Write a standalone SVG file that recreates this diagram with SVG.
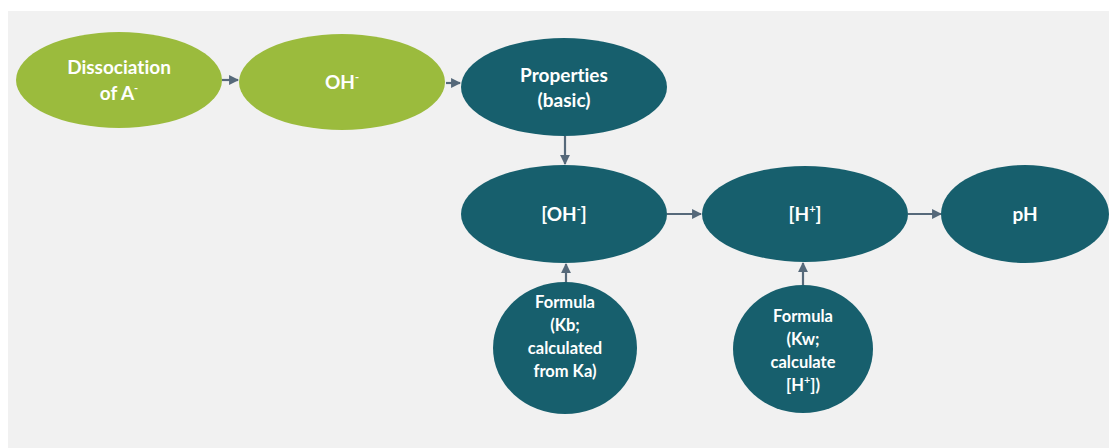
<svg xmlns="http://www.w3.org/2000/svg" width="1109" height="448" viewBox="0 0 1109 448">
  <style>
    .green { fill: #9bbb3d; }
    .teal { fill: #175f6d; }
    .lbl { fill: #ffffff; font-family: Lato, "Open Sans", "Liberation Sans", sans-serif; font-weight: bold; text-anchor: middle; font-variant-ligatures: none; }
    .big { font-size: 19px; }
    .small { font-size: 16.5px; }
    .sup { font-size: 11px; }
    .conn { stroke: #56697a; stroke-width: 2.2; fill: none; marker-end: url(#head); }
  </style>
  <defs>
    <marker id="head" viewBox="0 0 10 10" refX="9" refY="5" markerWidth="4.5" markerHeight="4.5" orient="auto" markerUnits="strokeWidth">
      <path d="M0,0 L10,5 L0,10 z" fill="#56697a"/>
    </marker>
  </defs>

  <!-- page -->
  <rect x="0" y="0" width="1109" height="448" fill="#ffffff"/>
  <rect x="8" y="11" width="1101" height="437" fill="#f1f1f1"/>

  <!-- connectors -->
  <g id="connectors">
    <line class="conn" x1="222" y1="80" x2="238" y2="80"/>
    <line class="conn" x1="446" y1="83" x2="460" y2="83"/>
    <line class="conn" x1="565" y1="136" x2="565" y2="164"/>
    <line class="conn" x1="667" y1="214" x2="701" y2="214"/>
    <line class="conn" x1="908" y1="214" x2="941" y2="214"/>
    <line class="conn" x1="566" y1="283" x2="566" y2="264"/>
    <line class="conn" x1="803" y1="286" x2="803" y2="263"/>
  </g>

  <g id="dissociation">
    <ellipse class="green" cx="119" cy="80" rx="103" ry="48"/>
    <text class="lbl big" x="119" y="74">Dissociation</text>
    <text class="lbl big" x="119" y="100">of A<tspan class="sup" dy="-8">-</tspan></text>
  </g>

  <g id="oh">
    <ellipse class="green" cx="342" cy="82" rx="103" ry="48"/>
    <text class="lbl big" x="342" y="89">OH<tspan class="sup" dy="-8">-</tspan></text>
  </g>

  <g id="properties">
    <ellipse class="teal" cx="564" cy="87" rx="103" ry="49"/>
    <text class="lbl big" x="564" y="82">Properties</text>
    <text class="lbl big" x="564" y="107">(basic)</text>
  </g>

  <g id="oh-conc">
    <ellipse class="teal" cx="564" cy="214" rx="103" ry="49"/>
    <text class="lbl big" x="564" y="221">[OH<tspan class="sup" dy="-8">-</tspan><tspan dy="8">]</tspan></text>
  </g>

  <g id="h-conc">
    <ellipse class="teal" cx="805" cy="214" rx="103" ry="48"/>
    <text class="lbl big" x="805" y="221">[H<tspan class="sup" dy="-8">+</tspan><tspan dy="8">]</tspan></text>
  </g>

  <g id="ph">
    <ellipse class="teal" cx="1025" cy="214" rx="84" ry="49"/>
    <text class="lbl big" x="1025" y="221">pH</text>
  </g>

  <g id="formula-kb">
    <ellipse class="teal" cx="565" cy="348" rx="72" ry="66"/>
    <text class="lbl small" x="565" y="308">Formula</text>
    <text class="lbl small" x="565" y="331">(Kb;</text>
    <text class="lbl small" x="565" y="354">calculated</text>
    <text class="lbl small" x="565" y="377">from Ka)</text>
  </g>

  <g id="formula-kw">
    <ellipse class="teal" cx="803" cy="349" rx="70" ry="64"/>
    <text class="lbl small" x="803" y="322">Formula</text>
    <text class="lbl small" x="803" y="345">(Kw;</text>
    <text class="lbl small" x="803" y="368">calculate</text>
    <text class="lbl small" x="803" y="391">[H<tspan class="sup" dy="-7">+</tspan><tspan dy="7">])</tspan></text>
  </g>
</svg>
